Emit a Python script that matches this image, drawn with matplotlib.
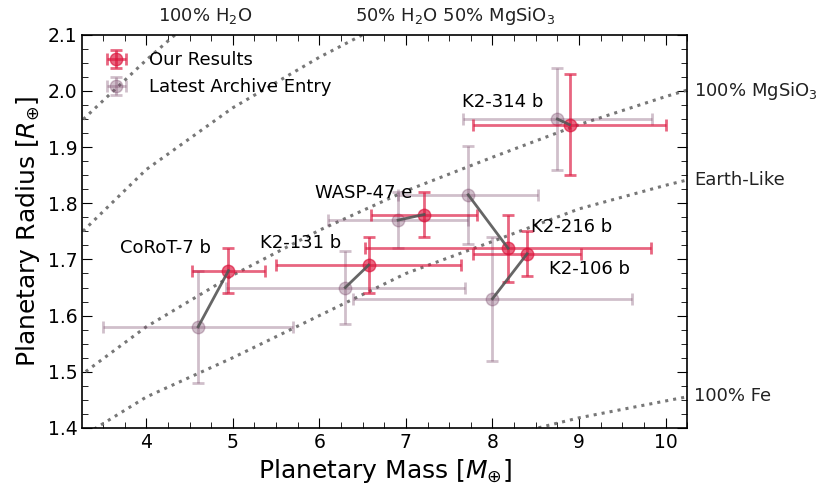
import matplotlib
matplotlib.use('Agg')
import matplotlib.pyplot as plt
from matplotlib.ticker import MultipleLocator

# planet names and label positions
names = ['CoRoT-7 b', 'K2-131 b', 'WASP-47 e', 'K2-314 b', 'K2-216 b', 'K2-106 b']
label_x = [3.70, 5.32, 5.95, 7.65, 8.45, 8.65]
label_y = [1.72, 1.73, 1.818, 1.98, 1.758, 1.683]

# our results
our_m = [4.95, 6.57, 7.21, 8.89, 8.18, 8.40]
our_m_err = [0.42, 1.07, 0.61, 1.12, 1.65, 0.62]
our_r = [1.68, 1.69, 1.78, 1.94, 1.72, 1.71]
our_r_err = [0.04, 0.05, 0.04, 0.09, 0.06, 0.04]

# latest archive entry
arc_m = [4.60, 6.30, 6.91, 8.75, 7.72, 8.00]
arc_m_err = [1.10, 1.38, 0.81, 1.09, 0.81, 1.61]
arc_r = [1.58, 1.65, 1.77, 1.95, 1.815, 1.63]
arc_r_err = [0.10, 0.065, 0.05, 0.09, 0.087, 0.11]

# composition curves
comp_m = [3, 4, 5, 6, 7, 8, 9, 10, 11]
r_rock = [1.466, 1.58, 1.672, 1.752, 1.822, 1.882, 1.94, 1.99, 2.036]
r_earth = [1.36, 1.455, 1.525, 1.60, 1.675, 1.732, 1.79, 1.832, 1.87]
r_fe = [1.20, 1.24, 1.28, 1.32, 1.35, 1.38, 1.418, 1.448, 1.478]
water_m = [3, 4, 5]
r_water = [1.91, 2.055, 2.19]
half_m = [3, 4, 5, 6, 7]
r_half = [1.71, 1.86, 1.97, 2.06, 2.14]

fig, ax = plt.subplots(figsize=(8.3, 4.97), dpi=100)
plt.subplots_adjust(left=0.099, right=0.828, top=0.93, bottom=0.139)

curve_kw = dict(color='#777777', ls=':', lw=2.2)
ax.plot(comp_m, r_rock, **curve_kw)
ax.plot(comp_m, r_earth, **curve_kw)
ax.plot(comp_m, r_fe, **curve_kw)
ax.plot(water_m, r_water, **curve_kw)
ax.plot(half_m, r_half, **curve_kw)

ax.errorbar(our_m, our_r, xerr=our_m_err, yerr=our_r_err, fmt='o', color='#dc143c',
            alpha=0.65, ms=9, lw=2, capsize=4, capthick=2, label='Our Results', zorder=4)
ax.errorbar(arc_m, arc_r, xerr=arc_m_err, yerr=arc_r_err, fmt='o', color='#7b4a6b',
            alpha=0.35, ms=9, lw=2, capsize=4, capthick=2, label='Latest Archive Entry', zorder=3)

for i in range(len(names)):
    ax.plot([arc_m[i], our_m[i]], [arc_r[i], our_r[i]], color='#555555', lw=2, alpha=0.9, zorder=5)
    ax.text(label_x[i], label_y[i], names[i], fontsize=13, va='center', ha='left')

# curve labels
ax.text(10.33, 2.0, '100% MgSiO$_3$', fontsize=13, va='center', color='#222222', clip_on=False)
ax.text(10.33, 1.842, 'Earth-Like', fontsize=13, va='center', color='#222222', clip_on=False)
ax.text(10.33, 1.456, '100% Fe', fontsize=13, va='center', color='#222222', clip_on=False)
ax.text(4.68, 2.125, '100% H$_2$O', fontsize=13, ha='center', color='#222222', clip_on=False)
ax.text(7.57, 2.125, '50% H$_2$O 50% MgSiO$_3$', fontsize=13, ha='center', color='#222222', clip_on=False)

ax.set_xlim(3.26, 10.25)
ax.set_ylim(1.4, 2.1)
ax.xaxis.set_major_locator(MultipleLocator(1))
ax.xaxis.set_minor_locator(MultipleLocator(0.25))
ax.yaxis.set_major_locator(MultipleLocator(0.1))
ax.yaxis.set_minor_locator(MultipleLocator(0.025))
ax.tick_params(which='both', direction='in', top=True, right=True, labelsize=13.5)
ax.tick_params(which='major', length=7)
ax.tick_params(which='minor', length=4)
for s in ax.spines.values():
    s.set_linewidth(1.2)

ax.set_xlabel('Planetary Mass [$M_{\\oplus}$]', fontsize=18)
ax.set_ylabel('Planetary Radius [$R_{\\oplus}$]', fontsize=18)
ax.legend(loc='upper left', frameon=False, fontsize=13)

plt.savefig('out.png', dpi=100)
